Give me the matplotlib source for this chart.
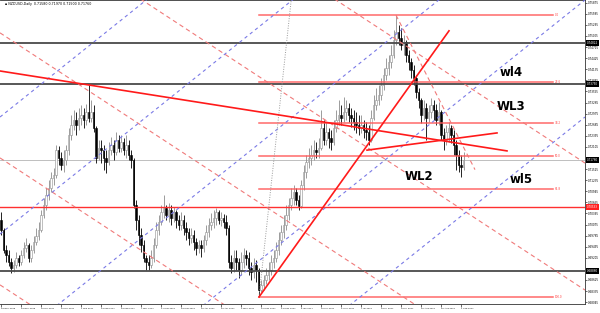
import matplotlib
matplotlib.use('Agg')
import matplotlib.pyplot as plt

# NZDUSD daily bars from 19 Dec 2016 to 4 Sep 2017 (open = previous close)
first_open = 0.7019
closes = [0.6993, 0.6941, 0.6928, 0.6910, 0.6894, 0.6902, 0.6920, 0.6910, 0.6928, 0.6946, 0.6954, 0.6920, 0.6941, 0.6962, 0.6978, 0.6993,
          0.7032, 0.7059, 0.7085, 0.7103, 0.7129, 0.7137, 0.7202, 0.7181, 0.7163, 0.7176, 0.7202, 0.7242, 0.7268, 0.7281, 0.7268, 0.7286,
          0.7294, 0.7281, 0.7302, 0.7286, 0.7302, 0.7260, 0.7181, 0.7207, 0.7202, 0.7181, 0.7171, 0.7202, 0.7215, 0.7197, 0.7228, 0.7207,
          0.7223, 0.7202, 0.7215, 0.7189, 0.7176, 0.7059, 0.7019, 0.6980, 0.6954, 0.6920, 0.6910, 0.6902, 0.6920, 0.6954, 0.6993, 0.7014,
          0.7040, 0.7051, 0.7032, 0.7045, 0.7024, 0.7040, 0.7019, 0.7006, 0.7019, 0.6998, 0.6988, 0.6972, 0.6980, 0.6962, 0.6946, 0.6954,
          0.6946, 0.6967, 0.6988, 0.7006, 0.7014, 0.7024, 0.7040, 0.7019, 0.7024, 0.7014, 0.6998, 0.6910, 0.6894, 0.6920, 0.6910, 0.6889,
          0.6910, 0.6928, 0.6920, 0.6894, 0.6884, 0.6902, 0.6889, 0.6836, 0.6849, 0.6862, 0.6876, 0.6889, 0.6910, 0.6920, 0.6941, 0.6967,
          0.6988, 0.7006, 0.7032, 0.7059, 0.7077, 0.7093, 0.7072, 0.7056, 0.7111, 0.7145, 0.7171, 0.7181, 0.7189, 0.7202, 0.7197, 0.7207,
          0.7260, 0.7228, 0.7250, 0.7234, 0.7223, 0.7260, 0.7281, 0.7294, 0.7286, 0.7302, 0.7312, 0.7294, 0.7286, 0.7276, 0.7268, 0.7260,
          0.7268, 0.7255, 0.7250, 0.7228, 0.7286, 0.7320, 0.7333, 0.7346, 0.7372, 0.7398, 0.7417, 0.7433, 0.7451, 0.7490, 0.7510, 0.7495,
          0.7477, 0.7485, 0.7451, 0.7433, 0.7412, 0.7391, 0.7354, 0.7333, 0.7294, 0.7312, 0.7286, 0.7302, 0.7320, 0.7307, 0.7281, 0.7302,
          0.7242, 0.7228, 0.7250, 0.7260, 0.7242, 0.7215, 0.7189, 0.7163, 0.7158, 0.7176]
highs = [0.7040, 0.6998, 0.6954, 0.6941, 0.6920, 0.6915, 0.6936, 0.6928, 0.6941, 0.6962, 0.6972, 0.6959, 0.6954, 0.6978, 0.6998, 0.7014,
         0.7045, 0.7077, 0.7103, 0.7124, 0.7145, 0.7155, 0.7215, 0.7213, 0.7197, 0.7202, 0.7215, 0.7260, 0.7294, 0.7307, 0.7302, 0.7312,
         0.7320, 0.7312, 0.7323, 0.7372, 0.7333, 0.7320, 0.7265, 0.7228, 0.7228, 0.7215, 0.7202, 0.7223, 0.7236, 0.7228, 0.7250, 0.7242,
         0.7242, 0.7233, 0.7242, 0.7228, 0.7202, 0.7181, 0.7072, 0.7032, 0.6998, 0.6967, 0.6928, 0.6928, 0.6941, 0.6972, 0.7014, 0.7032,
         0.7059, 0.7085, 0.7059, 0.7064, 0.7059, 0.7053, 0.7045, 0.7032, 0.7040, 0.7032, 0.7014, 0.6998, 0.6998, 0.6993, 0.6972, 0.6967,
         0.6967, 0.6980, 0.7006, 0.7024, 0.7038, 0.7045, 0.7051, 0.7045, 0.7040, 0.7035, 0.7032, 0.7006, 0.6928, 0.6941, 0.6941, 0.6920,
         0.6936, 0.6946, 0.6941, 0.6936, 0.6910, 0.6920, 0.6915, 0.6894, 0.6862, 0.6876, 0.6894, 0.6910, 0.6928, 0.6941, 0.6962, 0.6988,
         0.7006, 0.7032, 0.7059, 0.7077, 0.7103, 0.7111, 0.7103, 0.7085, 0.7124, 0.7163, 0.7189, 0.7207, 0.7215, 0.7228, 0.7223, 0.7233,
         0.7307, 0.7281, 0.7276, 0.7260, 0.7255, 0.7281, 0.7307, 0.7333, 0.7320, 0.7341, 0.7333, 0.7325, 0.7312, 0.7307, 0.7302, 0.7294,
         0.7294, 0.7281, 0.7276, 0.7268, 0.7307, 0.7346, 0.7364, 0.7372, 0.7390, 0.7417, 0.7443, 0.7451, 0.7477, 0.7516, 0.7555, 0.7529,
         0.7521, 0.7503, 0.7490, 0.7464, 0.7443, 0.7425, 0.7398, 0.7364, 0.7338, 0.7333, 0.7325, 0.7320, 0.7338, 0.7333, 0.7323, 0.7328,
         0.7307, 0.7260, 0.7268, 0.7276, 0.7268, 0.7255, 0.7228, 0.7202, 0.7189, 0.7197]
lows = [0.6980, 0.6933, 0.6910, 0.6899, 0.6881, 0.6884, 0.6894, 0.6899, 0.6902, 0.6920, 0.6936, 0.6910, 0.6910, 0.6933, 0.6954, 0.6967,
        0.6988, 0.7024, 0.7045, 0.7072, 0.7093, 0.7111, 0.7129, 0.7163, 0.7150, 0.7145, 0.7163, 0.7189, 0.7228, 0.7255, 0.7242, 0.7255,
        0.7268, 0.7260, 0.7268, 0.7276, 0.7276, 0.7250, 0.7168, 0.7176, 0.7168, 0.7150, 0.7142, 0.7163, 0.7189, 0.7176, 0.7189, 0.7197,
        0.7197, 0.7189, 0.7181, 0.7176, 0.7155, 0.7051, 0.6993, 0.6954, 0.6936, 0.6910, 0.6889, 0.6889, 0.6894, 0.6910, 0.6946, 0.6980,
        0.7006, 0.7024, 0.7019, 0.7014, 0.7006, 0.7014, 0.6998, 0.6993, 0.6993, 0.6980, 0.6967, 0.6954, 0.6959, 0.6941, 0.6928, 0.6933,
        0.6923, 0.6936, 0.6954, 0.6975, 0.6993, 0.6998, 0.7006, 0.7009, 0.7004, 0.6998, 0.6980, 0.6894, 0.6881, 0.6884, 0.6889, 0.6868,
        0.6876, 0.6894, 0.6902, 0.6876, 0.6862, 0.6868, 0.6857, 0.6818, 0.6831, 0.6836, 0.6852, 0.6862, 0.6876, 0.6894, 0.6910, 0.6928,
        0.6954, 0.6972, 0.6993, 0.7019, 0.7045, 0.7059, 0.7059, 0.7045, 0.7051, 0.7098, 0.7129, 0.7155, 0.7163, 0.7176, 0.7181, 0.7181,
        0.7202, 0.7215, 0.7215, 0.7207, 0.7202, 0.7215, 0.7250, 0.7268, 0.7268, 0.7276, 0.7281, 0.7276, 0.7263, 0.7255, 0.7247, 0.7242,
        0.7247, 0.7234, 0.7228, 0.7215, 0.7223, 0.7281, 0.7307, 0.7320, 0.7333, 0.7359, 0.7385, 0.7398, 0.7417, 0.7443, 0.7477, 0.7477,
        0.7464, 0.7451, 0.7433, 0.7412, 0.7391, 0.7372, 0.7338, 0.7312, 0.7273, 0.7281, 0.7228, 0.7276, 0.7286, 0.7281, 0.7268, 0.7268,
        0.7228, 0.7202, 0.7215, 0.7223, 0.7221, 0.7189, 0.7150, 0.7145, 0.7132, 0.7150]

date_labels = ['19 Dec 2016', '29 Dec 2016', '10 Jan 2017', '20 Jan 2017', '1 Feb 2017', '13 Feb 2017',
               '23 Feb 2017', '7 Mar 2017', '17 Mar 2017', '29 Mar 2017', '10 Apr 2017', '20 Apr 2017',
               '2 May 2017', '12 May 2017', '24 May 2017', '5 Jun 2017', '15 Jun 2017', '27 Jun 2017',
               '7 Jul 2017', '19 Jul 2017', '31 Jul 2017', '10 Aug 2017', '22 Aug 2017', '1 Sep 2017']
label_every = 8

price_ticks = [0.75875, 0.75585, 0.75295, 0.75005, 0.74715, 0.74425, 0.74135, 0.73845, 0.73555,
               0.73265, 0.72975, 0.72685, 0.72395, 0.72105, 0.71525, 0.71235, 0.70945, 0.70655,
               0.70365, 0.70075, 0.69785, 0.69495, 0.69205, 0.68625, 0.68335, 0.68045]

# drawn objects (prices / bar numbers)
black_levels = [0.74822, 0.73750, 0.68860]
red_level = 0.70533
fib_names = ['0.0', '23.6', '38.2', '50.0', '61.8', '100.0']
fib_ratios = [0.0, 0.236, 0.382, 0.5, 0.618, 1.0]
red_lines = [(-0.4, 0.7409, 202.4, 0.7200),
             (103.2, 0.6818, 179.2, 0.7514),
             (146.4, 0.7202, 198.4, 0.7247)]
steep_line = (158, 0.7555, 189.6, 0.7151)
dotted_line = (103.2, 0.6818, 116.5, 0.7620)
pink_start = [0.8168, 0.7836, 0.7507, 0.7180, 0.6848]
pink_slope = -0.000428
blue_start = [0.72907, 0.69848, 0.66788, 0.63729, 0.60669]
blue_slope = 0.000523
notes = [('wl4', 199.6, 0.7406), ('WL3', 198.4, 0.7315), ('WL2', 161.6, 0.7134), ('wl5', 203.6, 0.7124)]

fig = plt.figure(figsize=(6, 3.13), dpi=100)
ax = fig.add_axes([0, 9/313, 585/600, 304/313])
x0, x1 = -0.4, 233.6
ax.set_xlim(x0, x1)
ax.set_ylim(0.67997, 0.75946)

# candles
opens = [first_open] + closes[:-1]
for i in range(len(closes)):
    o, c = opens[i], closes[i]
    up = c >= o
    col = '#8c8c8c' if up else 'black'
    ax.vlines(i, lows[i], highs[i], color=col, lw=0.6, zorder=2)
    ax.bar(i, max(abs(c - o), 0.00004), bottom=min(o, c), width=0.7,
           facecolor='white' if up else 'black', edgecolor=col, lw=0.4, zorder=3)

# horizontal levels
for lv in black_levels:
    ax.axhline(lv, color='#4a4a4a', lw=1.3, zorder=4)
ax.axhline(red_level, color='#ff3030', lw=1.0, zorder=4)
ax.axhline(closes[-1], color='#b4b4b4', lw=0.6, zorder=1)

# fibo
hi, lo = max(highs), min(lows)
lo_bar = lows.index(lo)
for name, r in zip(fib_names, fib_ratios):
    lv = hi - r*(hi - lo)
    ax.plot([lo_bar, 220.8], [lv, lv], color='#ff5a5a', lw=1.1, alpha=0.9, zorder=4)
    ax.text(221.6, lv, name, fontsize=2, color='#ff4040', va='center', ha='left', zorder=5)

# channels
for p in pink_start:
    ax.plot([x0, x1], [p + pink_slope*x0, p + pink_slope*x1], color='#f07a7a',
            lw=0.8, dashes=(4, 3), zorder=4)
for p in blue_start:
    ax.plot([x0, x1], [p + blue_slope*x0, p + blue_slope*x1], color='#7a7ae6',
            lw=0.8, dashes=(3, 3), zorder=4)
b0, p0, b1, p1 = steep_line
ax.plot([b0, b1], [p0, p1], color='#f07a7a', lw=0.8, dashes=(4, 3), zorder=4)

for b0, p0, b1, p1 in red_lines:
    ax.plot([b0, b1], [p0, p1], color='#ff1a1a', lw=1.2, zorder=5)
b0, p0, b1, p1 = dotted_line
ax.plot([b0, b1], [p0, p1], color='#9a9a9a', lw=0.7, ls=(0, (1, 1.5)), zorder=4)

for txt, b, p in notes:
    ax.text(b, p, txt, fontsize=8.5, fontweight='bold', color='black', va='center', ha='left', zorder=6)

ax.text(0.008, 0.995, '\u25aa NZDUSD,Daily  0.71580 0.71970 0.71500 0.71760', transform=ax.transAxes,
        fontsize=2.3, va='top', ha='left', color='black')

# axes
ax.yaxis.tick_right()
ax.set_yticks(price_ticks)
ax.set_yticklabels(['%.5f' % t for t in price_ticks], fontsize=2)
ax.tick_params(axis='y', length=1.5, width=0.4, pad=0.8)
ax.set_xticks(range(0, len(closes), label_every))
ax.set_xticklabels(date_labels, fontsize=1.6, ha='left')
ax.tick_params(axis='x', length=2, width=0.4, pad=0.8)
for s in ax.spines.values():
    s.set_color('#333333')
    s.set_linewidth(0.6)
ax.spines['left'].set_visible(False)

ytr = ax.get_yaxis_transform()
for lv in black_levels + [closes[-1]]:
    ax.text(1.003, lv, '%.5f' % lv, transform=ytr, fontsize=2, color='white', va='center', ha='left',
            bbox=dict(boxstyle='square,pad=0.4', fc='black', ec='none'), clip_on=False)
ax.text(1.003, red_level, '%.5f' % red_level, transform=ytr, fontsize=2, color='white', va='center', ha='left',
        bbox=dict(boxstyle='square,pad=0.4', fc='#ff2020', ec='none'), clip_on=False)

fig.savefig('out.png', dpi=100)
